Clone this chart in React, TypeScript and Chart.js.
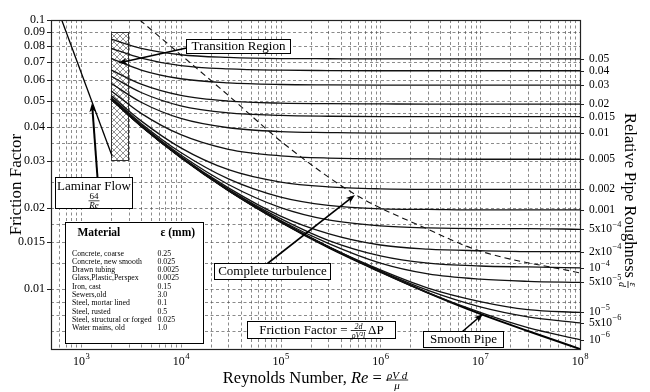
import React, { useEffect, useRef } from "react";
import { Chart, registerables } from "chart.js";

Chart.register(...registerables);

const SERIF = '"Liberation Serif", "Times New Roman", serif';

// axis ranges
const RE_MIN = 500;
const RE_MAX = 1e8;
const F_MIN = 0.006;
const F_MAX = 0.1;

const reynolds = [2000, 4000, 1e4, 3e4, 1e5, 3e5, 1e6, 3e6, 1e7, 3e7, 1e8];

// friction factor per relative roughness curve
const rough_0_05 = [0.085, 0.0785, 0.0743, 0.0726, 0.0719, 0.0718, 0.0717, 0.0717, 0.0717, 0.0717, 0.0717];
const rough_0_04 = [0.0785, 0.0722, 0.0677, 0.0658, 0.0651, 0.0649, 0.0648, 0.0648, 0.0648, 0.0648, 0.0648];
const rough_0_03 = [0.072, 0.0652, 0.0605, 0.0584, 0.0576, 0.0574, 0.0573, 0.0573, 0.0573, 0.0573, 0.0573];
const rough_0_02 = [0.0653, 0.0578, 0.0525, 0.0500, 0.0491, 0.0489, 0.0488, 0.0487, 0.0487, 0.0487, 0.0487];
const rough_0_015 = [0.0618, 0.0538, 0.048, 0.0452, 0.0442, 0.0439, 0.0438, 0.0438, 0.0438, 0.0438, 0.0438];
const rough_0_01 = [0.0582, 0.0495, 0.0431, 0.0398, 0.0385, 0.0382, 0.038, 0.038, 0.038, 0.038, 0.038];
const rough_0_005 = [0.0546, 0.045, 0.0375, 0.0331, 0.0313, 0.0307, 0.0305, 0.0305, 0.0304, 0.0304, 0.0304];
const rough_0_002 = [0.0524, 0.0422, 0.0335, 0.0278, 0.025, 0.024, 0.0236, 0.0235, 0.0235, 0.0235, 0.0235];
const rough_0_001 = [0.0517, 0.0413, 0.0322, 0.0257, 0.022, 0.0205, 0.0199, 0.0198, 0.0197, 0.0197, 0.0197];
const rough_5e_4 = [0.0513, 0.0408, 0.0315, 0.0245, 0.0201, 0.0181, 0.0172, 0.0169, 0.0168, 0.0168, 0.0167];
const rough_2e_4 = [0.0511, 0.0406, 0.0311, 0.0238, 0.0187, 0.0161, 0.0146, 0.0141, 0.0139, 0.0138, 0.0138];
const rough_1e_4 = [0.051, 0.0405, 0.031, 0.0235, 0.0183, 0.0152, 0.0133, 0.0125, 0.0122, 0.0121, 0.012];
const rough_5e_5 = [0.0509, 0.0405, 0.0309, 0.0234, 0.018, 0.0148, 0.0125, 0.0114, 0.0109, 0.0107, 0.0106];
const rough_1e_5 = [0.0509, 0.0404, 0.0309, 0.0233, 0.0179, 0.0144, 0.0118, 0.0101, 0.009, 0.0084, 0.0082];
const rough_5e_6 = [0.0509, 0.0404, 0.0309, 0.0233, 0.0178, 0.0144, 0.0117, 0.0099, 0.0086, 0.0079, 0.0075];
const rough_1e_6 = [0.0509, 0.0404, 0.0309, 0.0233, 0.0178, 0.0144, 0.0116, 0.0097, 0.0082, 0.0072, 0.0065];
const smoothPipe = [0.0509, 0.0404, 0.0309, 0.0233, 0.0178, 0.0143, 0.0116, 0.0097, 0.0081, 0.007, 0.006];

const roughnessLabels = [
  "0.05", "0.04", "0.03", "0.02", "0.015", "0.01", "0.005", "0.002", "0.001",
  "5x10^-4", "2x10^-4", "10^-4", "5x10^-5", "10^-5", "5x10^-6", "10^-6",
];
const roughnessSeries = [
  rough_0_05, rough_0_04, rough_0_03, rough_0_02, rough_0_015, rough_0_01, rough_0_005,
  rough_0_002, rough_0_001, rough_5e_4, rough_2e_4, rough_1e_4, rough_5e_5, rough_1e_5,
  rough_5e_6, rough_1e_6,
];

// laminar line 64/Re
const laminarRe = [500, 2050];
const laminarF = [0.128, 0.0312];

// dashed boundary of complete turbulence
const turbRe = [3880, 3.08e4, 1.05e5, 5.7e5, 2.9e6, 9.75e6, 1e8];
const turbF = [0.1, 0.052, 0.035, 0.0224, 0.0168, 0.0139, 0.0115];

// ticks and grid
const yTickValues = [0.1, 0.09, 0.08, 0.07, 0.06, 0.05, 0.04, 0.03, 0.02, 0.015, 0.01];
const yTickLabels = ["0.1", "0.09", "0.08", "0.07", "0.06", "0.05", "0.04", "0.03", "0.02", "0.015", "0.01"];
const yGridValues = [0.1, 0.09, 0.08, 0.07, 0.06, 0.05, 0.045, 0.04, 0.035, 0.03, 0.025, 0.02, 0.0175, 0.015, 0.0125, 0.01, 0.009, 0.008, 0.007];
const xTickExponents = [3, 4, 5, 6, 7, 8];
const xGridDecades = [100, 1000, 1e4, 1e5, 1e6, 1e7];
const xGridMultipliers = [1, 2, 3, 4, 5, 6, 7, 8, 9];

// material table
const materials = [
  "Concrete, coarse", "Concrete, new smooth", "Drawn tubing", "Glass,Plastic,Perspex",
  "Iron, cast", "Sewers,old", "Steel, mortar lined", "Steel, rusted",
  "Steel, structural or forged", "Water mains, old",
];
const roughnessMM = ["0.25", "0.025", "0.0025", "0.0025", "0.15", "3.0", "0.1", "0.5", "0.025", "1.0"];

// annotation anchors (Re, f)
const HATCH_RE = [1990, 2950];
const HATCH_F = [0.0302, 0.0902];
const TRANSITION_AT = [3.74e4, 0.0804];
const TRANSITION_TIP = [2345, 0.0692];
const LAMINAR_AT = [1334, 0.0229];
const LAMINAR_TIP = [1288, 0.0492];
const TURB_AT = [8.2e4, 0.01169];
const TURB_TIP = [5.56e5, 0.0224];
const FORMULA_AT = [2.54e5, 0.00706];
const SMOOTH_AT = [6.73e6, 0.00654];
const SMOOTH_TIP = [1.067e7, 0.0081];
const LEGEND_AT = [691, 0.01778];

function arrow(ctx: CanvasRenderingContext2D, x1: number, y1: number, x2: number, y2: number, w: number) {
  const ang = Math.atan2(y2 - y1, x2 - x1);
  const c = Math.cos(ang), s = Math.sin(ang);
  const L = 9, W = 3.3;
  ctx.save();
  ctx.strokeStyle = "#000";
  ctx.fillStyle = "#000";
  ctx.lineWidth = w;
  ctx.beginPath();
  ctx.moveTo(x1, y1);
  ctx.lineTo(x2 - L * 0.7 * c, y2 - L * 0.7 * s);
  ctx.stroke();
  ctx.beginPath();
  ctx.moveTo(x2, y2);
  ctx.lineTo(x2 - L * c + W * s, y2 - L * s - W * c);
  ctx.lineTo(x2 - L * 0.75 * c, y2 - L * 0.75 * s);
  ctx.lineTo(x2 - L * c - W * s, y2 - L * s + W * c);
  ctx.closePath();
  ctx.fill();
  ctx.restore();
}

function box(ctx: CanvasRenderingContext2D, cx: number, cy: number, w: number, h: number) {
  const x = Math.round(cx - w / 2) + 0.5;
  const y = Math.round(cy - h / 2) + 0.5;
  ctx.fillStyle = "#fff";
  ctx.fillRect(x, y, w, h);
  ctx.strokeStyle = "#000";
  ctx.lineWidth = 1;
  ctx.strokeRect(x, y, w, h);
  return { x, y, w, h };
}

function frac(ctx: CanvasRenderingContext2D, x: number, cy: number, num: string, den: string, font: string, draw = true) {
  ctx.font = font;
  const nw = ctx.measureText(num).width;
  const dw = ctx.measureText(den).width;
  const w = Math.max(nw, dw) + 2;
  if (draw) {
    ctx.textAlign = "center";
    ctx.textBaseline = "alphabetic";
    ctx.fillText(num, x + w / 2, cy - 1.5);
    ctx.textBaseline = "top";
    ctx.fillText(den, x + w / 2, cy + 1);
    ctx.fillRect(x, cy - 0.4, w, 0.8);
  }
  return w;
}

function supLabel(ctx: CanvasRenderingContext2D, label: string, x: number, y: number, size: number, align: "left" | "center") {
  const [base, supRaw] = label.split("^");
  const sup = supRaw ? supRaw.replace("-", "\u2212") : "";
  const big = `${size}px ${SERIF}`;
  const small = `${size * 0.72}px ${SERIF}`;
  ctx.font = big;
  const bw = ctx.measureText(base).width;
  ctx.font = small;
  const sw = sup ? ctx.measureText(sup).width : 0;
  const x0 = align === "center" ? x - (bw + sw) / 2 : x;
  ctx.textAlign = "left";
  ctx.textBaseline = "middle";
  ctx.font = big;
  ctx.fillText(base, x0, y);
  if (sup) {
    ctx.font = small;
    ctx.fillText(sup, x0 + bw + 0.5, y - size * 0.4);
  }
}

const moodyPlugin = {
  id: "moody",
  beforeDraw(chart: any) {
    const { ctx, width, height } = chart;
    ctx.save();
    ctx.fillStyle = "#fff";
    ctx.fillRect(0, 0, width, height);
    ctx.restore();
  },
  beforeDatasetsDraw(chart: any) {
    const { ctx, chartArea: a, scales } = chart;
    const sx = scales.x, sy = scales.y;
    ctx.save();
    ctx.strokeStyle = "rgba(70,70,70,0.7)";
    ctx.lineWidth = 0.9;
    ctx.setLineDash([3, 2.5]);
    for (const d of xGridDecades) {
      for (const m of xGridMultipliers) {
        const v = d * m;
        if (v < RE_MIN || v > RE_MAX) continue;
        const p = Math.round(sx.getPixelForValue(v)) + 0.5;
        ctx.beginPath();
        ctx.moveTo(p, a.top);
        ctx.lineTo(p, a.bottom);
        ctx.stroke();
      }
    }
    for (const v of yGridValues) {
      const p = Math.round(sy.getPixelForValue(v)) + 0.5;
      ctx.beginPath();
      ctx.moveTo(a.left, p);
      ctx.lineTo(a.right, p);
      ctx.stroke();
    }
    ctx.setLineDash([]);

    // transition region hatch
    const hx1 = Math.round(sx.getPixelForValue(HATCH_RE[0])) + 0.5;
    const hx2 = Math.round(sx.getPixelForValue(HATCH_RE[1])) + 0.5;
    const hy1 = Math.round(sy.getPixelForValue(HATCH_F[1])) + 0.5;
    const hy2 = Math.round(sy.getPixelForValue(HATCH_F[0])) + 0.5;
    const pc = document.createElement("canvas");
    pc.width = 6;
    pc.height = 6;
    const p = pc.getContext("2d")!;
    p.fillStyle = "#fff";
    p.fillRect(0, 0, 6, 6);
    p.strokeStyle = "#777";
    p.lineWidth = 0.8;
    p.beginPath();
    p.moveTo(0, 0);
    p.lineTo(6, 6);
    p.moveTo(6, 0);
    p.lineTo(0, 6);
    p.stroke();
    const pat = ctx.createPattern(pc, "repeat");
    ctx.fillStyle = pat;
    ctx.fillRect(hx1, hy1, hx2 - hx1, hy2 - hy1);
    ctx.strokeStyle = "#333";
    ctx.lineWidth = 1;
    ctx.strokeRect(hx1, hy1, hx2 - hx1, hy2 - hy1);
    ctx.restore();
  },
  afterDatasetsDraw(chart: any) {
    const { ctx, chartArea: a, scales } = chart;
    const sx = scales.x, sy = scales.y;
    const X = (v: number) => sx.getPixelForValue(v);
    const Y = (v: number) => sy.getPixelForValue(v);
    ctx.save();

    // frame
    ctx.strokeStyle = "#222";
    ctx.lineWidth = 1.2;
    ctx.strokeRect(Math.round(a.left) + 0.5, Math.round(a.top) + 0.5, Math.round(a.right - a.left), Math.round(a.bottom - a.top));

    ctx.fillStyle = "#000";
    // y tick labels
    ctx.lineWidth = 1;
    ctx.strokeStyle = "#222";
    yTickValues.forEach((v, i) => {
      const p = Math.round(Y(v)) + 0.5;
      ctx.beginPath();
      ctx.moveTo(a.left - 4, p);
      ctx.lineTo(a.left, p);
      ctx.stroke();
      ctx.font = `12px ${SERIF}`;
      ctx.textAlign = "right";
      ctx.textBaseline = "middle";
      ctx.fillText(yTickLabels[i], a.left - 6, Y(v));
    });
    // x tick labels
    xTickExponents.forEach((e) => {
      const px = X(Math.pow(10, e));
      supLabel(ctx, "10^" + e, px, a.bottom + 13, 12, "center");
    });
    // right labels at curve ends
    roughnessSeries.forEach((s, i) => {
      const py = Y(s[s.length - 1]);
      ctx.beginPath();
      ctx.moveTo(a.right, Math.round(py) + 0.5);
      ctx.lineTo(a.right + 4, Math.round(py) + 0.5);
      ctx.stroke();
      supLabel(ctx, roughnessLabels[i], a.right + 9, py, 11.5, "left");
    });

    // left title
    ctx.save();
    ctx.translate(17, (a.top + a.bottom) / 2);
    ctx.rotate(-Math.PI / 2);
    ctx.font = `17px ${SERIF}`;
    ctx.textAlign = "center";
    ctx.textBaseline = "middle";
    ctx.fillText("Friction Factor", 0, 0);
    ctx.restore();

    // right title
    ctx.save();
    ctx.translate(629, 113);
    ctx.rotate(Math.PI / 2);
    ctx.font = `16.5px ${SERIF}`;
    ctx.textAlign = "left";
    ctx.textBaseline = "middle";
    ctx.fillText("Relative Pipe Roughness", 0, 0);
    const rw = ctx.measureText("Relative Pipe Roughness").width;
    frac(ctx, rw + 3, 1, "\u03b5", "d", `italic 10px ${SERIF}`);
    ctx.restore();

    // bottom title
    {
      const cy = 379;
      const f1 = `16.5px ${SERIF}`;
      const f2 = `italic 16.5px ${SERIF}`;
      const ff = `italic 11px ${SERIF}`;
      const t1 = "Reynolds Number, ", t2 = "Re", t3 = " = ";
      ctx.font = f1;
      const w1 = ctx.measureText(t1).width;
      const w3 = ctx.measureText(t3).width;
      ctx.font = f2;
      const w2 = ctx.measureText(t2).width;
      const wf = frac(ctx, 0, 0, "\u03c1V d", "\u03bc", ff, false);
      let x = (a.left + a.right) / 2 - (w1 + w2 + w3 + wf) / 2;
      ctx.textAlign = "left";
      ctx.textBaseline = "middle";
      ctx.font = f1;
      ctx.fillText(t1, x, cy);
      x += w1;
      ctx.font = f2;
      ctx.fillText(t2, x, cy);
      x += w2;
      ctx.font = f1;
      ctx.fillText(t3, x, cy);
      x += w3;
      frac(ctx, x, cy + 1, "\u03c1V d", "\u03bc", ff);
    }

    // Transition region
    {
      const cx = X(TRANSITION_AT[0]), cy = Y(TRANSITION_AT[1]);
      const b = box(ctx, cx, cy, 104, 14);
      ctx.fillStyle = "#000";
      ctx.font = `13px ${SERIF}`;
      ctx.textAlign = "center";
      ctx.textBaseline = "middle";
      ctx.fillText("Transition Region", b.x + b.w / 2, b.y + b.h / 2 + 0.5);
      arrow(ctx, b.x, b.y + b.h / 2 + 1.5, X(TRANSITION_TIP[0]), Y(TRANSITION_TIP[1]), 1.5);
    }
    // Laminar flow
    {
      const cx = X(LAMINAR_AT[0]), cy = Y(LAMINAR_AT[1]);
      const b = box(ctx, cx, cy, 77, 31);
      ctx.fillStyle = "#000";
      ctx.font = `13px ${SERIF}`;
      ctx.textAlign = "center";
      ctx.textBaseline = "middle";
      ctx.fillText("Laminar Flow", b.x + b.w / 2, b.y + 9.5);
      ctx.font = `9px ${SERIF}`;
      const fw = 11;
      ctx.textBaseline = "alphabetic";
      ctx.fillText("64", b.x + b.w / 2, b.y + 21.5);
      ctx.fillRect(b.x + b.w / 2 - fw / 2, b.y + 23, fw, 0.7);
      ctx.font = `italic 9px ${SERIF}`;
      ctx.textBaseline = "top";
      ctx.fillText("Re", b.x + b.w / 2, b.y + 24);
      arrow(ctx, b.x + b.w / 2 + 3.5, b.y, X(LAMINAR_TIP[0]), Y(LAMINAR_TIP[1]), 2);
    }
    // Complete turbulence
    {
      const cx = X(TURB_AT[0]), cy = Y(TURB_AT[1]);
      const b = box(ctx, cx, cy, 116, 16);
      ctx.fillStyle = "#000";
      ctx.font = `13px ${SERIF}`;
      ctx.textAlign = "center";
      ctx.textBaseline = "middle";
      ctx.fillText("Complete turbulence", b.x + b.w / 2, b.y + b.h / 2 + 0.5);
      arrow(ctx, b.x + b.w / 2 - 5, b.y, X(TURB_TIP[0]), Y(TURB_TIP[1]), 1.6);
    }
    // Friction factor formula
    {
      const cx = X(FORMULA_AT[0]), cy = Y(FORMULA_AT[1]);
      const b = box(ctx, cx, cy, 148, 17);
      const t1 = "Friction Factor = ";
      ctx.font = `13px ${SERIF}`;
      const w1 = ctx.measureText(t1).width;
      const w3 = ctx.measureText("\u0394P").width;
      const ff = `italic 8px ${SERIF}`;
      const wf = frac(ctx, 0, 0, "2d", "\u03c1V\u00b2l", ff, false);
      let x = b.x + b.w / 2 - (w1 + wf + w3 + 2) / 2;
      const my = b.y + b.h / 2 + 0.5;
      ctx.fillStyle = "#000";
      ctx.font = `13px ${SERIF}`;
      ctx.textAlign = "left";
      ctx.textBaseline = "middle";
      ctx.fillText(t1, x, my);
      x += w1;
      frac(ctx, x, my, "2d", "\u03c1V\u00b2l", ff);
      x += wf + 2;
      ctx.font = `13px ${SERIF}`;
      ctx.textAlign = "left";
      ctx.textBaseline = "middle";
      ctx.fillText("\u0394P", x, my);
    }
    // Smooth pipe
    {
      const cx = X(SMOOTH_AT[0]), cy = Y(SMOOTH_AT[1]);
      const b = box(ctx, cx, cy, 80, 16);
      ctx.fillStyle = "#000";
      ctx.font = `13px ${SERIF}`;
      ctx.textAlign = "center";
      ctx.textBaseline = "middle";
      ctx.fillText("Smooth Pipe", b.x + b.w / 2, b.y + b.h / 2 + 0.5);
      arrow(ctx, b.x + b.w / 2 - 1, b.y, X(SMOOTH_TIP[0]), Y(SMOOTH_TIP[1]), 1.6);
    }
    // Material table
    {
      const lx = Math.round(X(LEGEND_AT[0])) + 0.5;
      const ly = Math.round(Y(LEGEND_AT[1])) + 0.5;
      const w = 138, h = 121;
      ctx.fillStyle = "#fff";
      ctx.fillRect(lx, ly, w, h);
      ctx.strokeStyle = "#000";
      ctx.lineWidth = 1;
      ctx.strokeRect(lx, ly, w, h);
      ctx.fillStyle = "#000";
      ctx.textAlign = "left";
      ctx.textBaseline = "middle";
      ctx.font = `bold 11.5px ${SERIF}`;
      ctx.fillText("Material", lx + 12, ly + 11);
      ctx.fillText("\u03b5 (mm)", lx + 95, ly + 11);
      ctx.font = `7.8px ${SERIF}`;
      materials.forEach((m, i) => {
        const yy = ly + 31 + i * 8.29;
        ctx.fillText(m, lx + 6.5, yy);
        ctx.fillText(roughnessMM[i], lx + 92, yy);
      });
    }
    ctx.restore();
  },
};

export default function App() {
  const ref = useRef<HTMLCanvasElement>(null);
  useEffect(() => {
    const canvas = ref.current;
    if (!canvas) return;
    const curveDatasets = roughnessSeries.map((s) => ({
      data: reynolds.map((r, i) => ({ x: r, y: s[i] })),
      borderColor: "#111",
      borderWidth: 1.3,
      pointRadius: 0,
      fill: false,
      cubicInterpolationMode: "monotone" as const,
    }));
    const datasets: any[] = [
      ...curveDatasets,
      {
        data: reynolds.map((r, i) => ({ x: r, y: smoothPipe[i] })),
        borderColor: "#000",
        borderWidth: 2,
        pointRadius: 0,
        fill: false,
        cubicInterpolationMode: "monotone",
      },
      {
        data: laminarRe.map((r, i) => ({ x: r, y: laminarF[i] })),
        borderColor: "#000",
        borderWidth: 1.3,
        pointRadius: 0,
        fill: false,
      },
      {
        data: turbRe.map((r, i) => ({ x: r, y: turbF[i] })),
        borderColor: "#111",
        borderWidth: 1.1,
        borderDash: [6, 4],
        pointRadius: 0,
        fill: false,
        cubicInterpolationMode: "monotone",
      },
    ];
    const chart = new Chart(canvas, {
      type: "line",
      data: { datasets },
      options: {
        responsive: false,
        animation: false,
        events: [],
        layout: { padding: { left: 51, top: 20, right: 70, bottom: 43 } },
        plugins: { legend: { display: false }, tooltip: { enabled: false } },
        scales: {
          x: { type: "logarithmic", display: false, min: RE_MIN, max: RE_MAX },
          y: { type: "logarithmic", display: false, min: F_MIN, max: F_MAX },
        },
      },
      plugins: [moodyPlugin],
    });
    return () => chart.destroy();
  }, []);
  return (
    <div style={{ position: "absolute", left: 0, top: 0, width: 650, height: 392, background: "#fff" }}>
      <canvas ref={ref} width={650} height={392} style={{ display: "block", width: 650, height: 392 }} />
    </div>
  );
}
